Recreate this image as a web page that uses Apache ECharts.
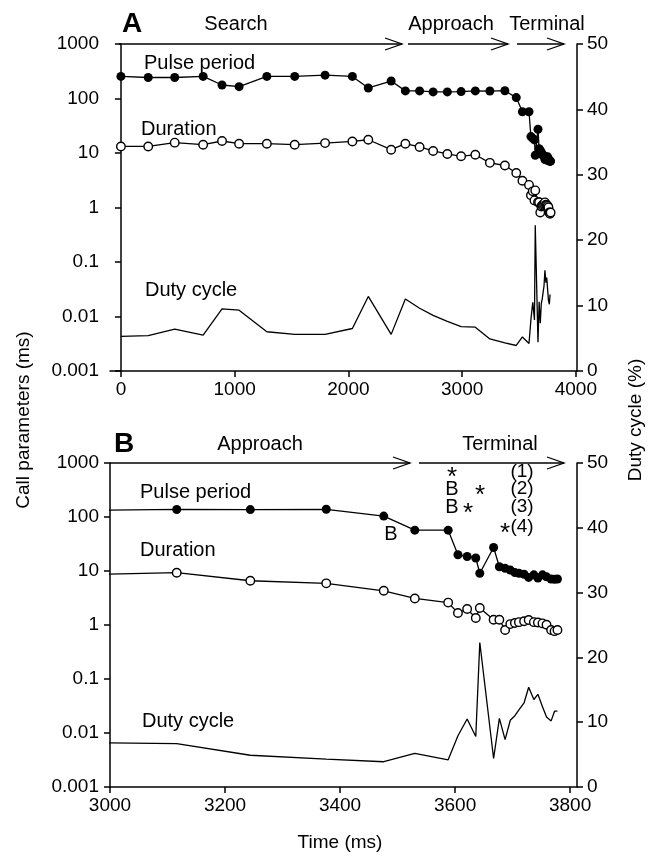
<!DOCTYPE html>
<html>
<head>
<meta charset="utf-8">
<script src="https://cdn.jsdelivr.net/npm/echarts@6.0.0/dist/echarts.min.js"></script>
<style>
  html, body { margin: 0; padding: 0; background: #fff; }
  #chart { width: 651px; height: 858px; }
</style>
</head>
<body>
<div id="chart"></div>
<script>
// time of each call (ms)
const time = [0, 240, 473, 723, 889, 1039, 1283, 1528, 1795, 2035, 2175, 2376, 2501, 2626, 2745, 2870,
  2991, 3116, 3244, 3376, 3476, 3530, 3588,
  3605, 3621, 3636, 3643, 3667, 3677, 3687, 3696, 3704, 3711, 3720, 3728, 3737, 3744, 3752, 3759, 3767, 3773, 3778]
// pulse period (ms)
const pulsePeriod = [254, 243, 243, 254, 177, 165, 254, 254, 268, 254, 156, 209, 138, 138, 132, 132,
  134, 138, 137, 139, 104, 57, 57,
  20, 18.6, 17.4, 9.1, 27.3, 12.0, 11.2, 10.4, 9.4, 9.1, 8.7, 7.6, 8.5, 7.4, 8.5, 7.8, 7.1, 7.0, 7.1]
// pulse duration (ms)
const duration = [13.2, 13.2, 15.5, 14.2, 16.6, 14.8, 14.8, 14.2, 15.2, 16.3, 17.5, 11.5, 14.8, 12.9, 10.9, 9.6,
  8.7, 9.3, 6.6, 5.9, 4.3, 3.1, 2.6,
  1.67, 1.98, 1.35, 2.06, 1.25, 1.25, 0.81, 1.04, 1.09, 1.13, 1.17, 1.24, 1.13, 1.11, 1.07, 1.01, 0.81, 0.77, 0.81]
// duty cycle (%)
const dutyCycle = [5.3, 5.4, 6.4, 5.5, 9.5, 9.3, 6.0, 5.6, 5.6, 6.5, 11.4, 5.6, 11.0, 9.6, 8.5, 7.6,
  6.8, 6.7, 4.9, 4.3, 3.9, 5.2, 4.2,
  7.9, 10.5, 7.8, 22.3, 4.4, 10.6, 7.3, 10.3, 11.0, 11.9, 13.0, 15.4, 13.5, 14.3, 12.4, 10.8, 10.2, 11.7, 11.7]

const xTicksA = [0, 1000, 2000, 3000, 4000]
const xTicksB = [3000, 3200, 3400, 3600, 3800]

const FONT = '"Liberation Sans", Arial, Helvetica, sans-serif'
const pairs = (ys) => time.map((t, i) => [t, ys[i]])

const chart = echarts.init(document.getElementById('chart'), null, { renderer: 'canvas' })

const axisCommon = {
  axisLine: { show: true, lineStyle: { color: '#000', width: 1.5 } },
  axisTick: { show: true, length: 6, lineStyle: { color: '#000', width: 1.5 } },
  axisLabel: { color: '#000', fontSize: 19, fontFamily: FONT, margin: 11 },
  splitLine: { show: false }
}

const logAxis = (gridIndex) => ({
  ...axisCommon,
  type: 'log', logBase: 10, min: 0.001, max: 1000, gridIndex, position: 'left',
  axisLabel: { ...axisCommon.axisLabel, formatter: (v) => String(Number(v.toPrecision(3))) }
})
const dutyAxis = (gridIndex) => ({
  ...axisCommon,
  type: 'value', min: 0, max: 50, interval: 10, gridIndex, position: 'right',
  axisLabel: { ...axisCommon.axisLabel, margin: 10 }
})
const timeAxis = (gridIndex, min, max, ticks) => ({
  ...axisCommon, type: 'value', gridIndex, min, max,
  axisTick: { ...axisCommon.axisTick, customValues: ticks },
  axisLabel: { ...axisCommon.axisLabel, customValues: ticks, margin: 9, formatter: (v) => String(v) }
})

const makeSeries = (xi, yl, yr) => [
  {
    type: 'line', xAxisIndex: xi, yAxisIndex: yl, data: pairs(pulsePeriod),
    symbol: 'circle', symbolSize: 9, clip: true,
    lineStyle: { color: '#000', width: 1.3 }, itemStyle: { color: '#000' }
  },
  {
    type: 'line', xAxisIndex: xi, yAxisIndex: yl, data: pairs(duration),
    symbol: 'circle', symbolSize: 8.5, clip: true,
    lineStyle: { color: '#000', width: 1.3 },
    itemStyle: { color: '#fff', borderColor: '#000', borderWidth: 1.4 }
  },
  {
    type: 'line', xAxisIndex: xi, yAxisIndex: yr, data: pairs(dutyCycle),
    symbol: 'none', clip: true,
    lineStyle: { color: '#000', width: 1.3 }
  }
]

const txt = (text, x, y, size, extra) => Object.assign({
  type: 'text', x, y, silent: true,
  style: Object.assign({
    text, fill: '#000', fontSize: size, fontFamily: FONT,
    textAlign: 'center', textVerticalAlign: 'middle'
  }, (extra && extra.style) || {})
}, (extra && extra.el) || {})
const left = { style: { textAlign: 'left' } }
const arrow = (x1, x2, y) => ({
  type: 'group', silent: true,
  children: [
    { type: 'line', shape: { x1, y1: y, x2, y2: y }, style: { stroke: '#000', lineWidth: 1.3 } },
    { type: 'polyline', shape: { points: [[x2 - 17, y - 6], [x2, y], [x2 - 17, y + 6]] }, style: { stroke: '#000', fill: null, lineWidth: 1.3 } }
  ]
})

chart.setOption({
  animation: false,
  backgroundColor: '#fff',
  grid: [
    { left: 110, right: 74, top: 44, height: 327 },
    { left: 110, right: 74, top: 463, height: 324 }
  ],
  xAxis: [timeAxis(0, -96, 4010, xTicksA), timeAxis(1, 3000, 3812, xTicksB)],
  yAxis: [logAxis(0), dutyAxis(0), logAxis(1), dutyAxis(1)],
  series: [...makeSeries(0, 0, 1), ...makeSeries(1, 2, 3)],
  graphic: [
    // panel A
    txt('A', 132, 24, 28, { style: { fontWeight: 'bold' } }),
    txt('Search', 236, 24, 20),
    txt('Approach', 451, 24, 20),
    txt('Terminal', 547, 24, 20),
    arrow(119, 402, 44),
    arrow(408, 508, 44),
    arrow(517, 564, 44),
    txt('Pulse period', 144, 63, 20, left),
    txt('Duration', 141, 129, 20, left),
    txt('Duty cycle', 145, 290, 20, left),
    // panel B
    txt('B', 124, 444, 28, { style: { fontWeight: 'bold' } }),
    txt('Approach', 260, 444, 20),
    txt('Terminal', 500, 444, 20),
    arrow(110, 410, 463),
    arrow(419, 564, 463),
    txt('Pulse period', 140, 492, 20, left),
    txt('Duration', 140, 550, 20, left),
    txt('Duty cycle', 142, 721, 20, left),
    txt('B', 391, 534, 20),
    txt('*', 452, 478, 26),
    txt('B', 452, 489, 20),
    txt('*', 480, 496, 26),
    txt('B', 452, 507, 20),
    txt('*', 468, 514, 26),
    txt('*', 505, 534, 26),
    txt('(1)', 522, 472, 19),
    txt('(2)', 522, 489, 19),
    txt('(3)', 522, 507, 19),
    txt('(4)', 522, 527, 19),
    // axis titles
    txt('Call parameters (ms)', 24, 420, 19, { el: { rotation: Math.PI / 2 } }),
    txt('Duty cycle (%)', 636, 420, 19, { el: { rotation: Math.PI / 2 } }),
    txt('Time (ms)', 340, 843, 19)
  ]
})
</script>
</body>
</html>
